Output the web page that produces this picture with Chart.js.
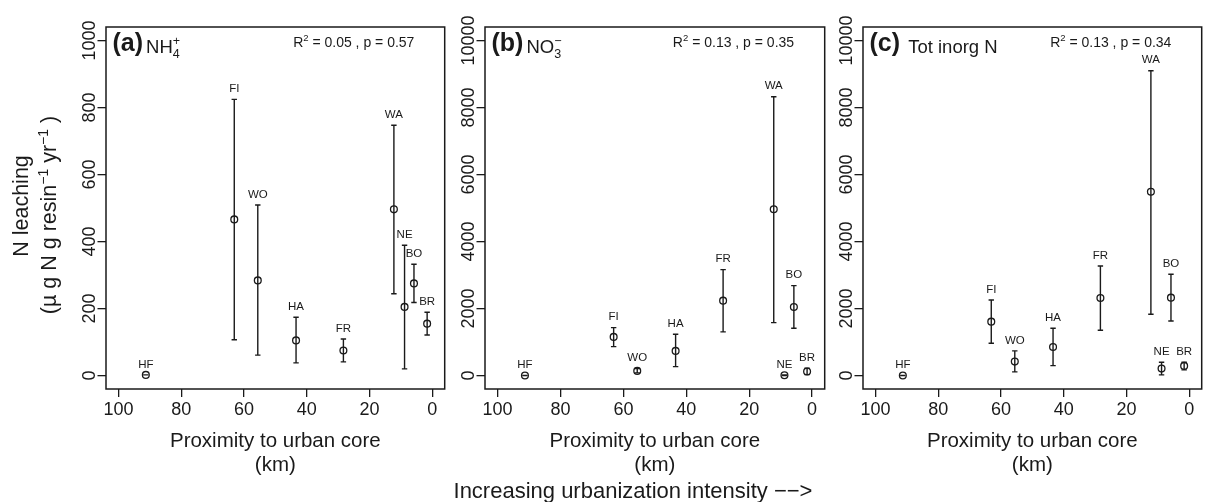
<!DOCTYPE html>
<html>
<head>
<meta charset="utf-8">
<script src="https://cdn.jsdelivr.net/npm/chart.js@4.4.1/dist/chart.umd.min.js"></script>
<style>
body { margin: 0; background: #fff; width: 1207px; height: 502px; position: relative; overflow: hidden; }
canvas { position: absolute; top: 0; }
#chart-a { left: 0; }
#chart-b { left: 450px; }
#chart-c { left: 830px; }
#note { position: absolute; left: 383px; width: 500px; top: 479px; text-align: center;
        font: 22px "Liberation Sans", Arial, sans-serif; line-height: 24px; color: #1a1a1a; }
</style>
</head>
<body>
<canvas id="chart-a" width="450" height="502"></canvas>
<canvas id="chart-b" width="380" height="502"></canvas>
<canvas id="chart-c" width="377" height="502"></canvas>
<div id="note">Increasing urbanization intensity −−&gt;</div>
<script>
const FAMILY = '"Liberation Sans", Arial, sans-serif';
const INK = '#1a1a1a';

// sites and distance to the urban core (km)
const sites = ['HF', 'FI', 'WO', 'HA', 'FR', 'WA', 'NE', 'BO', 'BR'];
const distance = [91.3, 63.1, 55.6, 43.4, 28.3, 12.2, 8.8, 5.8, 1.6];

// (a) NH4+
const nh4Mean = [2, 466, 284, 105, 75, 496, 205, 275, 155];
const nh4Low = [2, 107, 61, 38, 41, 244, 20, 218, 121];
const nh4High = [2, 824, 509, 174, 109, 747, 389, 332, 189];

// (b) NO3-
const no3Mean = [5, 1154, 140, 736, 2236, 4961, 10, 2048, 120];
const no3Low = [5, 865, 80, 268, 1303, 1580, 0, 1413, 30];
const no3High = [5, 1431, 210, 1234, 3160, 8318, 20, 2683, 220];

// (c) total inorganic N
const totMean = [5, 1610, 418, 855, 2316, 5486, 209, 2326, 289];
const totLow = [5, 966, 110, 298, 1353, 1830, 20, 1630, 170];
const totHigh = [5, 2257, 736, 1413, 3270, 9093, 400, 3023, 400];

const xTicks = [0, 20, 40, 60, 80, 100];
const nh4Ticks = [0, 200, 400, 600, 800, 1000];
const no3Ticks = [0, 2000, 4000, 6000, 8000, 10000];

const statsA = ['0.05', '0.57'];
const statsB = ['0.13', '0.35'];
const statsC = ['0.13', '0.34'];

// draw a run of text pieces (plain, super/subscript stacks), returns width
function rich(ctx, parts, x, y, measureOnly) {
    let cx = x;
    parts.forEach(p => {
        if (p.sup !== undefined) {
            ctx.font = p.size + 'px ' + FAMILY;
            const w = Math.max(ctx.measureText(p.sup).width, ctx.measureText(p.sub || '').width);
            if (!measureOnly) {
                ctx.fillText(p.sup, cx, y + p.supDy);
                if (p.sub) ctx.fillText(p.sub, cx, y + p.subDy);
            }
            cx += w;
        } else {
            ctx.font = (p.bold ? 'bold ' : '') + p.size + 'px ' + FAMILY;
            if (!measureOnly) ctx.fillText(p.text, cx, y + (p.dy || 0));
            cx += ctx.measureText(p.text).width;
        }
    });
    return cx - x;
}

function richCentered(ctx, parts, x, y) {
    const w = rich(ctx, parts, 0, 0, true);
    rich(ctx, parts, x - w / 2, y);
}

function makePanel(id, cfg) {
    const decor = {
        id: 'decor' + id,
        afterDatasetsDraw(chart) {
            const ctx = chart.ctx;
            const xs = chart.scales.x, ys = chart.scales.y;
            const area = chart.chartArea;
            ctx.save();
            ctx.strokeStyle = INK;
            ctx.fillStyle = INK;

            // error bars
            ctx.lineWidth = 1.4;
            distance.forEach((d, i) => {
                const px = xs.getPixelForValue(d);
                const lo = ys.getPixelForValue(cfg.low[i]);
                const hi = ys.getPixelForValue(cfg.high[i]);
                ctx.beginPath();
                ctx.moveTo(px, lo); ctx.lineTo(px, hi);
                ctx.moveTo(px - 2.7, lo); ctx.lineTo(px + 2.7, lo);
                ctx.moveTo(px - 2.7, hi); ctx.lineTo(px + 2.7, hi);
                ctx.stroke();
            });

            // site labels above the bars
            ctx.font = '11.5px ' + FAMILY;
            ctx.textAlign = 'center';
            ctx.textBaseline = 'alphabetic';
            sites.forEach((s, i) => {
                ctx.fillText(s, xs.getPixelForValue(distance[i]), ys.getPixelForValue(cfg.high[i]) - 7.4);
            });

            // box
            ctx.lineWidth = 1.5;
            ctx.strokeRect(area.left, area.top, area.right - area.left, area.bottom - area.top);

            // rotated y tick labels
            ctx.font = '18px ' + FAMILY;
            ys.ticks.forEach(t => {
                ctx.save();
                ctx.translate(area.left - 11.5, ys.getPixelForValue(t.value));
                ctx.rotate(-Math.PI / 2);
                ctx.textAlign = 'center';
                ctx.fillText(String(t.value), 0, 0);
                ctx.restore();
            });

            // panel title
            ctx.textAlign = 'left';
            rich(ctx, [{ text: cfg.letter, size: 25, bold: true }], area.left + 6.5, 50.5);
            const lw = rich(ctx, [{ text: cfg.letter, size: 25, bold: true }], 0, 0, true);
            rich(ctx, cfg.title, area.left + 6.5 + lw + 3, 53.3);

            // R2 and p
            richCentered(ctx, [
                { text: 'R', size: 14 },
                { sup: '2', size: 9.5, supDy: -6 },
                { text: ' = ' + cfg.stats[0] + ' , p = ' + cfg.stats[1], size: 14 }
            ], xs.getPixelForValue(25), 46.7);

            // y axis title (first panel only)
            if (cfg.yTitle) {
                ctx.save();
                ctx.translate(28, 206);
                ctx.rotate(-Math.PI / 2);
                richCentered(ctx, [{ text: 'N leaching', size: 21.5 }], 0, 0);
                ctx.restore();
                ctx.save();
                ctx.translate(56, 215);
                ctx.rotate(-Math.PI / 2);
                richCentered(ctx, [
                    { text: '(\u00b5 g N g resin', size: 21.5 },
                    { sup: '\u22121', size: 14, supDy: -8 },
                    { text: ' yr', size: 21.5 },
                    { sup: '\u22121', size: 14, supDy: -8 },
                    { text: ' )', size: 21.5 }
                ], 0, 0);
                ctx.restore();
            }
            ctx.restore();
        }
    };

    return new Chart(document.getElementById(id).getContext('2d'), {
        type: 'scatter',
        data: {
            datasets: [{
                data: distance.map((d, i) => ({ x: d, y: cfg.mean[i] })),
                pointStyle: 'circle',
                pointRadius: 3.4,
                pointBorderWidth: 1.3,
                pointBorderColor: INK,
                pointBackgroundColor: 'rgba(0,0,0,0)'
            }]
        },
        options: {
            responsive: false,
            animation: false,
            events: [],
            layout: { padding: { left: 0, right: cfg.padRight, top: 27, bottom: 0 } },
            plugins: { legend: { display: false }, tooltip: { enabled: false } },
            scales: {
                x: {
                    type: 'linear',
                    min: -4,
                    max: 104,
                    reverse: true,
                    afterBuildTicks: s => { s.ticks = xTicks.map(v => ({ value: v })); },
                    afterFit: s => { s.height = 113; },
                    ticks: {
                        autoSkip: false, maxRotation: 0, minRotation: 0,
                        padding: 2.2, color: INK,
                        font: { family: FAMILY, size: 18 },
                        callback: v => String(v)
                    },
                    grid: { drawOnChartArea: false, drawTicks: true, tickLength: 8, color: INK, lineWidth: 1.3 },
                    border: { display: false },
                    title: {
                        display: true,
                        text: ['Proximity to urban core', '(km)'],
                        color: INK,
                        font: { family: FAMILY, size: 20.5, lineHeight: 1.137 },
                        padding: { top: 0, bottom: 25.3 }
                    }
                },
                y: {
                    type: 'linear',
                    min: cfg.yMin,
                    max: cfg.yMax,
                    afterBuildTicks: s => { s.ticks = cfg.yTicks.map(v => ({ value: v })); },
                    afterFit: s => { s.width = cfg.axisWidth; },
                    ticks: { display: false },
                    grid: { drawOnChartArea: false, drawTicks: true, tickLength: 8.5, color: INK, lineWidth: 1.3 },
                    border: { display: false }
                }
            }
        },
        plugins: [decor]
    });
}

makePanel('chart-a', {
    mean: nh4Mean, low: nh4Low, high: nh4High,
    yTicks: nh4Ticks, yMin: -40, yMax: 1040,
    axisWidth: 106, padRight: 4, yTitle: true,
    letter: '(a)',
    title: [{ text: 'NH', size: 18.5 }, { sup: '+', sub: '4', size: 12.5, supDy: -8, subDy: 5 }],
    stats: statsA
});

makePanel('chart-b', {
    mean: no3Mean, low: no3Low, high: no3High,
    yTicks: no3Ticks, yMin: -400, yMax: 10400,
    axisWidth: 35, padRight: 5, yTitle: false,
    letter: '(b)',
    title: [{ text: 'NO', size: 18.5 }, { sup: '\u2212', sub: '3', size: 12.5, supDy: -8, subDy: 5 }],
    stats: statsB
});

makePanel('chart-c', {
    mean: totMean, low: totLow, high: totHigh,
    yTicks: no3Ticks, yMin: -400, yMax: 10400,
    axisWidth: 33, padRight: 5, yTitle: false,
    letter: '(c)',
    title: [{ text: ' Tot inorg N', size: 18.5 }],
    stats: statsC
});
</script>
</body>
</html>
